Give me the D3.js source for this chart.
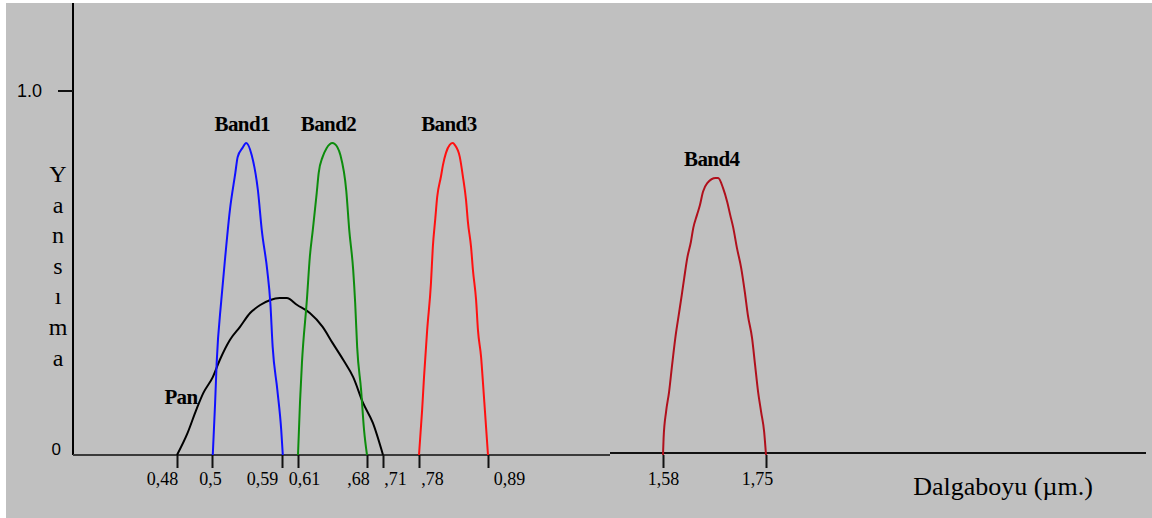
<!DOCTYPE html>
<html>
<head>
<meta charset="utf-8">
<script src="https://cdn.jsdelivr.net/npm/d3@7"></script>
<style>
  body { margin: 0; background: #fff; }
  svg { display: block; }
</style>
</head>
<body>
<div id="chart"></div>
<script>
// dimensions
var width = 1152
var height = 518

// tick values (µm) and their printed labels
var tickValues = [0.48, 0.5, 0.59, 0.61, 0.68, 0.71, 0.78, 0.89, 1.58, 1.75]
var tickLabels = ["0,48", "0,5", "0,59", "0,61", ",68", ",71", ",78", "0,89", "1,58", "1,75"]

// curves: [wavelength, reflectance]
var band1 = [[0.501,0],[0.504,0.143],[0.506,0.253],[0.512,0.426],[0.517,0.544],[0.523,0.673],
  [0.530,0.775],[0.533,0.819],[0.539,0.843],[0.544,0.857],[0.551,0.824],[0.559,0.728],
  [0.564,0.618],[0.571,0.508],[0.575,0.418],[0.578,0.297],[0.584,0.179],[0.589,0.069],[0.591,0]]
var band2 = [[0.610,0],[0.612,0.143],[0.614,0.253],[0.619,0.426],[0.622,0.544],[0.625,0.618],
  [0.629,0.720],[0.631,0.775],[0.635,0.819],[0.639,0.843],[0.645,0.857],[0.647,0.855],
  [0.653,0.824],[0.659,0.725],[0.662,0.618],[0.666,0.508],[0.668,0.418],[0.670,0.297],
  [0.674,0.179],[0.677,0.069],[0.680,0]]
var band3 = [[0.780,0],[0.785,0.124],[0.788,0.214],[0.793,0.343],[0.799,0.470],[0.802,0.570],
  [0.806,0.650],[0.809,0.709],[0.815,0.765],[0.818,0.795],[0.823,0.830],[0.829,0.852],
  [0.834,0.857],[0.837,0.852],[0.845,0.819],[0.850,0.765],[0.855,0.700],[0.858,0.640],
  [0.863,0.571],[0.866,0.508],[0.871,0.426],[0.874,0.343],[0.879,0.269],[0.882,0.198],
  [0.885,0.124],[0.890,0]]
var band4 = [[1.580,0],[1.581,0.047],[1.585,0.118],[1.590,0.173],[1.595,0.247],[1.601,0.330],
  [1.606,0.385],[1.611,0.440],[1.615,0.486],[1.620,0.541],[1.626,0.585],[1.630,0.624],
  [1.636,0.659],[1.641,0.687],[1.646,0.723],[1.653,0.747],[1.667,0.761],[1.671,0.761],
  [1.679,0.734],[1.686,0.695],[1.691,0.659],[1.696,0.624],[1.702,0.569],[1.709,0.514],
  [1.715,0.448],[1.720,0.385],[1.727,0.321],[1.732,0.247],[1.737,0.173],[1.742,0.118],
  [1.747,0.063],[1.750,0]]
var pan = [[0.480,0],[0.486,0.060],[0.491,0.124],[0.495,0.170],[0.501,0.214],[0.510,0.261],
  [0.523,0.316],[0.536,0.352],[0.549,0.390],[0.562,0.412],[0.575,0.426],[0.587,0.431],
  [0.596,0.431],[0.609,0.412],[0.622,0.390],[0.635,0.352],[0.645,0.308],[0.656,0.261],
  [0.666,0.214],[0.676,0.143],[0.691,0.088],[0.710,0]]

var bandNames = ["Band1", "Band2", "Band3", "Band4"]
var bandColors = ["#1010ff", "#0c8c0c", "#ff1010", "#b0101c"]

var svg = d3.select("#chart")
  .append("svg")
    .attr("width", width)
    .attr("height", height)

// fond blanc + zone grise
svg.append("rect").attr("width", width).attr("height", height).attr("fill", "#fff")
svg.append("rect")
  .attr("x", 6).attr("y", 3)
  .attr("width", width - 6).attr("height", height - 3)
  .attr("fill", "#c0c0c0")

// axe x non linéaire : chaque graduation a sa propre position
var x = d3.scaleLinear()
  .domain(tickValues)
  .range([177, 212, 282, 298, 367, 383, 419, 488, 663, 766])

var y = d3.scaleLinear()
  .domain([0, 1])
  .range([455, 91])

var x0 = 73

// axe y
svg.append("line")
  .attr("x1", x0).attr("x2", x0)
  .attr("y1", 3).attr("y2", y(0))
  .attr("stroke", "#000").attr("stroke-width", 2)
svg.append("line")
  .attr("x1", x0 - 15).attr("x2", x0)
  .attr("y1", y(1)).attr("y2", y(1))
  .attr("stroke", "#111").attr("stroke-width", 2)
svg.append("text")
  .attr("x", 42).attr("y", y(1) + 6)
  .attr("text-anchor", "end")
  .style("font-family", "Liberation Sans, sans-serif")
  .style("font-size", "18px")
  .text("1.0")
svg.append("text")
  .attr("x", 61).attr("y", y(0))
  .attr("text-anchor", "end")
  .style("font-family", "Liberation Sans, sans-serif")
  .style("font-size", "17px")
  .text("0")

// axe x en deux morceaux
var xBreak = 610
svg.append("line")
  .attr("x1", x0).attr("x2", xBreak)
  .attr("y1", y(0)).attr("y2", y(0))
  .attr("stroke", "#3a3a3a").attr("stroke-width", 2)
svg.append("line")
  .attr("x1", xBreak).attr("x2", 1146)
  .attr("y1", y(0) - 2).attr("y2", y(0) - 2)
  .attr("stroke", "#111").attr("stroke-width", 2)

// décalage des étiquettes par rapport aux graduations
var labelShift = [-15, -2, -20, 6, -9, 12, 13, 21, 0, -9]

var xAxis = svg.append("g")
  .attr("transform", "translate(0," + y(0) + ")")
  .call(d3.axisBottom(x)
    .tickValues(tickValues)
    .tickSize(13)
    .tickFormat(function(d, i){ return tickLabels[i] }))
xAxis.select(".domain").remove()
xAxis.selectAll(".tick line").attr("stroke", "#111").attr("stroke-width", 2)
xAxis.selectAll(".tick text")
  .attr("y", 17)
  .attr("dy", "0.71em")
  .attr("dx", function(d, i){ return labelShift[i] })
  .style("font-family", "Liberation Serif, serif")
  .style("font-size", "18px")
  .attr("fill", "#000")

// titre de l'axe x
svg.append("text")
  .attr("x", 1003).attr("y", 495)
  .attr("text-anchor", "middle")
  .style("font-family", "Liberation Serif, serif")
  .style("font-size", "26px")
  .text("Dalgaboyu (µm.)")

// titre de l'axe y, une lettre par ligne
var yTitle = "Yansıma".split("")
svg.selectAll("ylet")
  .data(yTitle)
  .enter()
  .append("text")
    .attr("x", 58)
    .attr("y", function(d, i){ return 182 + i * 30.6 })
    .attr("text-anchor", "middle")
    .style("font-family", "Liberation Serif, serif")
    .style("font-size", "24px")
    .text(function(d){ return d })

// courbes
var line = d3.line()
  .curve(d3.curveMonotoneX)
  .x(function(d){ return x(d[0]) })
  .y(function(d){ return y(d[1]) })

var bands = [band1, band2, band3, band4]

svg.append("path")
  .datum(pan)
  .attr("d", line)
  .attr("fill", "none")
  .attr("stroke", "#000")
  .attr("stroke-width", 2)

svg.selectAll("bands")
  .data(bands)
  .enter()
  .append("path")
    .attr("d", line)
    .attr("fill", "none")
    .attr("stroke", function(d, i){ return bandColors[i] })
    .attr("stroke-width", 2)

// étiquettes au-dessus des sommets
svg.selectAll("blabels")
  .data(bands)
  .enter()
  .append("text")
    .attr("x", function(d){
      var top = d3.greatest(d, function(p){ return p[1] })
      return x(top[0]) - 4
    })
    .attr("y", function(d){ return y(d3.max(d, function(p){ return p[1] })) - 12 })
    .attr("text-anchor", "middle")
    .style("font-family", "Liberation Serif, serif")
    .style("font-weight", "bold")
    .style("font-size", "21px")
    .style("letter-spacing", "-0.6px")
    .text(function(d, i){ return bandNames[i] })

svg.append("text")
  .attr("x", x(pan[0][0]) + 4)
  .attr("y", y(0.14))
  .attr("text-anchor", "middle")
  .style("font-family", "Liberation Serif, serif")
  .style("font-weight", "bold")
  .style("font-size", "21px")
  .style("letter-spacing", "-0.6px")
  .text("Pan")
</script>
</body>
</html>
